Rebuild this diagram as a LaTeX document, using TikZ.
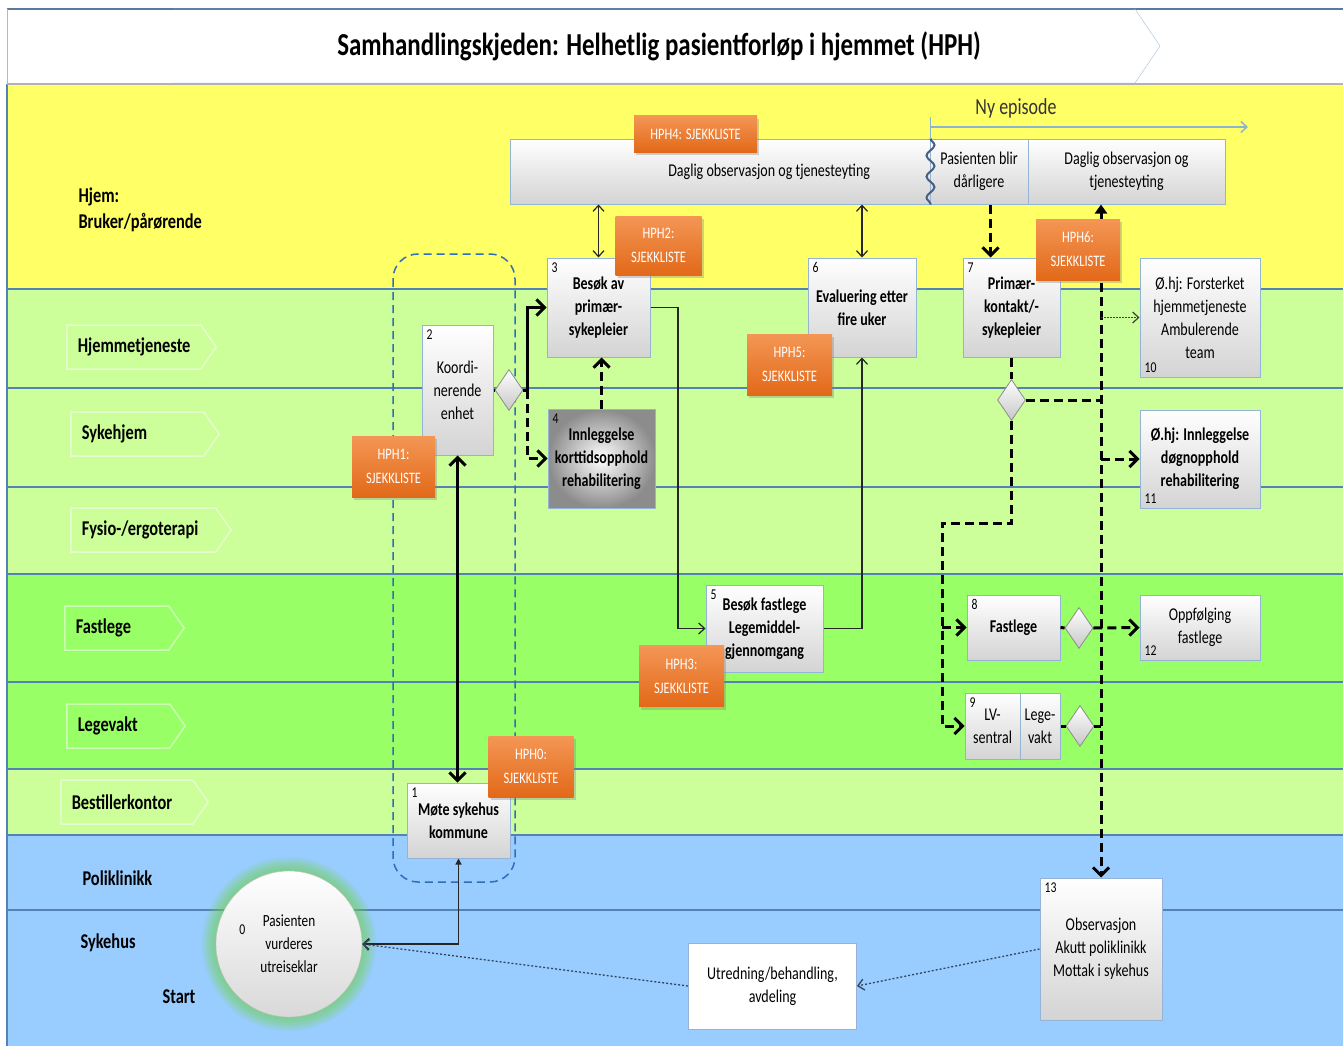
\documentclass[tikz,border=0pt]{standalone}
\usepackage{fontspec}
\setmainfont{Carlito}[FakeStretch=0.78]
\usepackage{tikz}
\usetikzlibrary{shapes.geometric, shapes.symbols, arrows.meta, shadows, decorations.pathmorphing}

\definecolor{gul}{RGB}{255,255,102}
\definecolor{lysgronn}{RGB}{204,255,153}
\definecolor{gronn}{RGB}{153,255,102}
\definecolor{bla}{RGB}{153,204,255}
\definecolor{banelinje}{RGB}{84,130,180}
\definecolor{kant}{RGB}{149,179,215}
\definecolor{lysbla}{RGB}{160,190,220}
\definecolor{tittelkant}{RGB}{90,120,160}
\definecolor{oransje}{RGB}{226,105,25}
\definecolor{lysoransje}{RGB}{244,150,85}
\definecolor{gruppekant}{RGB}{47,110,186}
\definecolor{prikk}{RGB}{50,70,100}
\definecolor{glod}{RGB}{110,215,60}
\definecolor{bolgefarge}{RGB}{70,95,130}
\definecolor{episodefarge}{RGB}{140,180,205}

\begin{document}
\begin{tikzpicture}[x=1pt, y=-1pt,
    >={Straight Barb[length=6pt, width=11pt]},
    boks/.style={draw=kant, line width=1pt, top color=white, bottom color=black!17,
        align=center, inner sep=2pt, font=\fontsize{18}{23}\selectfont},
    fet/.style={font=\bfseries\fontsize{18}{23}\selectfont},
    sjekk/.style={top color=lysoransje, bottom color=oransje, text=white, align=center,
        inner sep=2pt, font=\fontsize{16}{24}\selectfont,
        drop shadow={shadow xshift=2pt, shadow yshift=-3pt, opacity=0.35}},
    valg/.style={diamond, draw=black!45, line width=0.8pt, top color=white, bottom color=black!22,
        minimum width=28pt, minimum height=41pt, inner sep=0pt},
    nr/.style={label={[anchor=north west, inner sep=5pt, font=\fontsize{15}{15}\selectfont]north west:#1}},
    nrbunn/.style={label={[anchor=south west, inner sep=5pt, font=\fontsize{15}{15}\selectfont]south west:#1}},
    feltnavn/.style={signal, signal to=east, signal pointer angle=110, draw=white, draw opacity=0.5,
        line width=1.5pt, anchor=west, align=left, inner xsep=11pt, minimum height=44pt,
        font=\bfseries\fontsize{21}{24}\selectfont},
    banenavn/.style={anchor=west, align=left, font=\bfseries\fontsize{21}{26}\selectfont},
    tykk/.style={line width=3pt, >={Straight Barb[length=8pt, width=16pt]}},
    tykkstiplet/.style={line width=3pt, dash pattern=on 9pt off 5pt, >={Straight Barb[length=8pt, width=16pt]}},
    tynn/.style={line width=1.2pt, black!85},
    tynnstiplet/.style={line width=1.2pt, black!75, dash pattern=on 2pt off 1pt},
    prikket/.style={line width=1.3pt, prikk, dash pattern=on 2pt off 2pt},
    gruppe/.style={gruppekant, line width=1.5pt, dash pattern=on 8pt off 5pt, rounded corners=25pt},
    episode/.style={episodefarge, line width=1.5pt},
    bolge/.style={bolgefarge, line width=2pt, decorate, decoration={snake, amplitude=4pt, segment length=21pt}}]

    \useasboundingbox (0,0) rectangle (1343,1046);
    \fill[white] (0,0) rectangle (1343,1046);
    \fill[gul] (7,84) rectangle (1343,289);
    \fill[lysgronn] (7,289) rectangle (1343,574);
    \fill[gronn] (7,574) rectangle (1343,769);
    \fill[lysgronn] (7,769) rectangle (1343,835);
    \fill[bla] (7,835) rectangle (1343,1046);
    \foreach \y in {289,388,487,574,682,769,835,910}
        \draw[banelinje, line width=1.2pt] (7,\y) -- (1343,\y);
    \draw[banelinje, line width=1.5pt] (7,84) -- (7,1046);

    \draw[tittelkant, line width=2pt] (7,9) -- (1343,9);
    \draw[lysbla] (7,9) -- (7,84);
    \draw[lysbla] (173,9) -- (1135,9) -- (1160,46) -- (1135,83) -- (173,83);
    \draw[black!30, line width=2pt] (7,84) -- (1343,84);
    \node[font=\bfseries\fontsize{32}{36}\selectfont] (tittel) at (659,46)
        {Samhandlingskjeden: Helhetlig pasientforløp i hjemmet (HPH)};

    \node[banenavn] (hjem) at (75,210) {Hjem:\\Bruker/pårørende};
    \node[feltnavn, text width=112pt] (hjemmetj) at (66,347) {Hjemmetjeneste};
    \node[feltnavn, text width=111pt] (sykehjem) at (70,434) {Sykehjem};
    \node[feltnavn, text width=123pt] (fysio) at (70,530) {Fysio-/ergoterapi};
    \node[feltnavn, text width=82pt] (fastlege) at (64,628) {Fastlege};
    \node[feltnavn, text width=81pt] (legevakt) at (66,726) {Legevakt};
    \node[feltnavn, text width=110pt] (bestiller) at (60,802) {Bestillerkontor};
    \node[banenavn] (poli) at (79,878) {Poliklinikk};
    \node[banenavn] (sykehus) at (77,943) {Sykehus};
    \node[banenavn] (start) at (159,997) {Start};

    \draw[gruppe] (393,254) rectangle (515,882);

    \coordinate (startpkt) at (289,944);
    \foreach \r in {73,75,...,87}
        \fill[glod, opacity=0.1] (startpkt) circle[radius=\r*1pt];
    \node[circle, draw=black!25, top color=white, bottom color=black!15, minimum size=146pt,
        align=center, font=\fontsize{17}{23}\selectfont,
        label={[anchor=west, xshift=20pt, yshift=14pt, font=\fontsize{15}{15}\selectfont]west:0}]
        (n0) at (startpkt) {Pasienten\\vurderes\\utreiseklar};

    \node[boks, minimum width=420pt, minimum height=65pt, text width=300pt, align=flush right]
        (daglig) at (720,171.5) {Daglig observasjon og tjenesteyting};
    \node[boks, minimum width=98pt, minimum height=65pt] (darlig) at (979,171.5) {Pasienten blir\\dårligere};
    \node[boks, minimum width=197pt, minimum height=65pt] (daglig2) at (1126.5,171.5) {Daglig observasjon og\\tjenesteyting};
    \draw[bolge] (daglig.north east) -- (daglig.south east);

    \node[font=\fontsize{23}{26}\selectfont, text=black!80] (nyep) at (1016,108) {Ny episode};
    \coordinate (nyslutt) at (1248,127);
    \draw[episode] (daglig.north east) -- ++(0,-21);
    \draw[episode, ->] (daglig.north east |- nyslutt) -- (nyslutt);

    \node[boks, fet, minimum width=103pt, minimum height=75pt, nr=1] (n1) at (458.5,820.5) {Møte sykehus\\kommune};
    \node[boks, minimum width=71pt, minimum height=130pt, nr=2] (n2) at (457.5,390) {Koordi-\\nerende\\enhet};
    \node[boks, fet, minimum width=103pt, minimum height=99pt, nr=3] (n3) at (598.5,307.5) {Besøk av\\primær-\\sykepleier};
    \node[boks, fet, inner color=white, outer color=black!45, minimum width=107pt, minimum height=99pt, nr=4]
        (n4) at (601.5,458.5) {Innleggelse\\korttidsopphold\\rehabilitering};
    \node[boks, fet, minimum width=117pt, minimum height=87pt, nr=5] (n5) at (764.5,628.5) {Besøk fastlege\\Legemiddel-\\gjennomgang};
    \node[boks, fet, minimum width=108pt, minimum height=99pt, nr=6] (n6) at (862,307.5) {Evaluering etter\\fire uker};
    \node[boks, fet, minimum width=97pt, minimum height=99pt, nr=7] (n7) at (1011.5,307.5) {Primær-\\kontakt/-\\sykepleier};
    \node[boks, fet, minimum width=93pt, minimum height=65pt, nr=8] (n8) at (1013.5,627.5) {Fastlege};
    \node[boks, minimum width=55pt, minimum height=66pt, nr=9] (n9a) at (992.5,726) {LV-\\sentral};
    \node[boks, minimum width=40pt, minimum height=66pt] (n9b) at (1040,726) {Lege-\\vakt};
    \node[boks, minimum width=120pt, minimum height=119pt, nrbunn=10] (n10) at (1200,317.5) {Ø.hj: Forsterket\\hjemmetjeneste\\Ambulerende\\team};
    \node[boks, fet, minimum width=120pt, minimum height=98pt, nrbunn=11] (n11) at (1200,459) {Ø.hj: Innleggelse\\døgnopphold\\rehabilitering};
    \node[boks, minimum width=120pt, minimum height=65pt, nrbunn=12] (n12) at (1200,627.5) {Oppfølging\\fastlege};
    \node[boks, minimum width=122pt, minimum height=142pt, nr=13] (n13) at (1101,949) {Observasjon\\Akutt poliklinikk\\Mottak i sykehus};
    \node[boks, bottom color=white, minimum width=168pt, minimum height=86pt] (utred) at (772.5,986) {Utredning/behandling,\\avdeling};

    \node[valg] (d2) at (509,390) {};
    \node[valg] (d7) at (1011.5,400) {};
    \node[valg] (d8) at (1079,628) {};
    \node[valg] (d9) at (1080,726) {};

    \draw[tynn, <->] (n3.north) -- (n3.north |- daglig.south);
    \draw[tynn, <->] (n6.north) -- (n6.north |- daglig.south);
    \coordinate (k7) at ([xshift=-21pt]n7.north);
    \draw[tykkstiplet, ->] (k7 |- darlig.south) -- (k7);
    \draw[tykkstiplet, {Triangle[length=9pt, width=12pt]}->] (n13.north |- daglig2.south) -- (n13.north);
    \draw[tynnstiplet, ->] (n10.west -| n13.north) -- (n10.west);
    \draw[tykkstiplet, ->] (n11.west -| n13.north) -- (n11.west);
    \draw[tykkstiplet] (n7.south) -- (d7.north);
    \draw[tykkstiplet] (d7.east) -- (d7.east -| n13.north);
    \coordinate (knekk) at (942,523);
    \draw[tykkstiplet, ->] (d7.south) |- (knekk) |- (n9a.west);
    \draw[tykkstiplet, ->] (knekk |- n8.west) -- (n8.west);
    \draw[tykk] (n8.east) -- (d8.west);
    \draw[tykkstiplet, ->] (d8.east) -- (n12.west);
    \draw[tykk] (n9b.east) -- (d9.west);
    \draw[tykkstiplet] (d9.east) -- (d9.east -| n13.north);

    \draw[tykk] (n2.east) -- (d2.west);
    \coordinate (k2) at ([xshift=4pt]d2.east);
    \draw[tykk, ->] (d2.east) -- (k2) |- (n3.west);
    \draw[tykkstiplet, ->] (k2) |- (n4.west);
    \draw[tykkstiplet, ->] (n4.north) -- (n4.north |- n3.south);
    \coordinate (k3) at (678,307.5);
    \draw[tynn, ->] (n3.east) -- (k3) |- (n5.west);
    \draw[tynn, ->] (n5.east) -| (n6.south);
    \draw[tykk, <->] (n2.south) -- (n2.south |- n1.north);
    \draw[tynn, {Straight Barb[length=6pt, width=11pt]}-{Triangle[length=6pt, width=6pt]}] (n0.east) -| (n1.south);
    \draw[prikket, ->] (n13.west) -- (utred.east);
    \draw[prikket, ->] (utred.west) -- (n0.east);

    \node[sjekk, minimum width=123pt, minimum height=36pt] (hph4) at (695.5,134) {HPH4: SJEKKLISTE};
    \node[sjekk, minimum width=86pt, minimum height=59pt] (hph2) at (658.5,245.5) {HPH2:\\SJEKKLISTE};
    \node[sjekk, minimum width=83pt, minimum height=61pt] (hph1) at (393.5,466.5) {HPH1:\\SJEKKLISTE};
    \node[sjekk, minimum width=85pt, minimum height=61pt] (hph5) at (789.5,364.5) {HPH5:\\SJEKKLISTE};
    \node[sjekk, minimum width=84pt, minimum height=61pt] (hph6) at (1078,249.5) {HPH6:\\SJEKKLISTE};
    \node[sjekk, minimum width=85pt, minimum height=61pt] (hph3) at (681.5,676) {HPH3:\\SJEKKLISTE};
    \node[sjekk, minimum width=85pt, minimum height=61pt] (hph0) at (531,766.5) {HPH0:\\SJEKKLISTE};

\end{tikzpicture}
\end{document}
